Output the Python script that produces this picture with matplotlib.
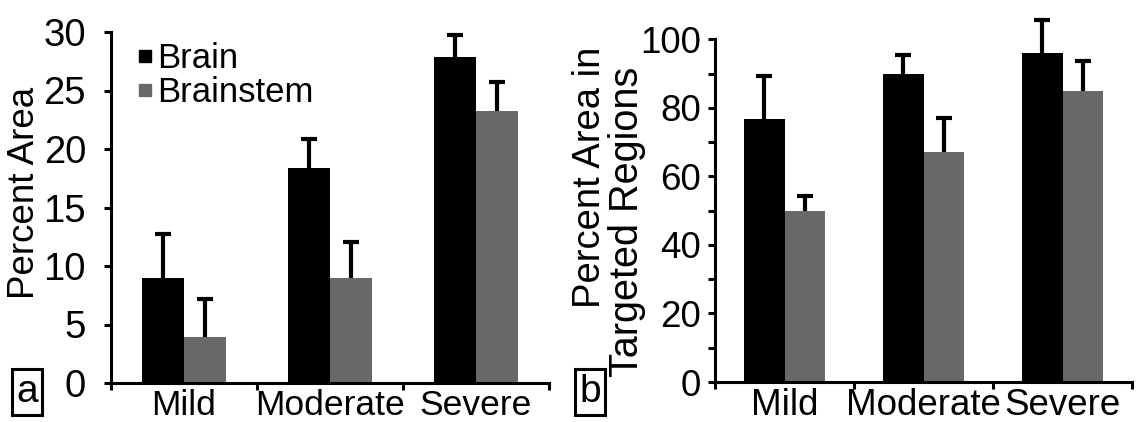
import matplotlib
matplotlib.use("Agg")
import matplotlib.pyplot as plt
from matplotlib.lines import Line2D
import numpy as np

plt.rcParams['font.family'] = ['Liberation Sans', 'DejaVu Sans']

categories = ["Mild", "Moderate", "Severe"]
series = ["Brain", "Brainstem"]

# Panel a: Percent Area
a_brain = [9.0, 18.35, 27.9]
a_brain_err = [3.75, 2.5, 1.85]
a_stem = [3.95, 9.0, 23.25]
a_stem_err = [3.2, 3.05, 2.5]

# Panel b: Percent Area in Targeted Regions
b_brain = [76.6, 90.0, 96.1]
b_brain_err = [12.7, 5.4, 9.5]
b_stem = [49.8, 67.2, 84.9]
b_stem_err = [4.5, 9.8, 8.7]

a_yticks = [0, 5, 10, 15, 20, 25, 30]
b_yticks = [0, 20, 40, 60, 80, 100]
b_yminor = [10, 30, 50, 70, 90]

colors = ["#000000", "#686868"]
W, H = 1144, 422
fig = plt.figure(figsize=(W / 100, H / 100), dpi=100)

LW = 2.2


def panel(rect, brain, brain_err, stem, stem_err, ylim, yticks, fs, yfs, ypad, yminor=None):
    ax = fig.add_axes(rect)
    x = np.arange(len(categories)) + 0.5
    w = 0.29
    ax.bar(x - w / 2, brain, w, color=colors[0], zorder=2)
    ax.bar(x + w / 2, stem, w, color=colors[1], zorder=2)
    for xs, vals, errs in [(x - w / 2, brain, brain_err), (x + w / 2, stem, stem_err)]:
        _, caps, _ = ax.errorbar(xs, vals, yerr=[np.zeros(len(errs)), errs], fmt="none",
                                 ecolor="black", elinewidth=LW + 0.8, capsize=5.5,
                                 capthick=LW + 0.8, clip_on=False, zorder=3)
        caps[0].set_visible(False)
    ax.set_xlim(0, len(categories))
    ax.set_ylim(*ylim)
    ax.set_yticks(yticks)
    ax.set_yticklabels([str(t) for t in yticks])
    if yminor:
        ax.set_yticks(yminor, minor=True)
        ax.tick_params(axis="y", which="minor", length=5, width=LW, direction="out")
    ax.set_xticks([0, 1, 2, 3])
    ax.set_xticklabels([])
    ax.set_xticks(x, minor=True)
    ax.set_xticklabels(categories, minor=True)
    ax.tick_params(axis="x", which="minor", length=0, pad=4, labelsize=fs)
    ax.tick_params(axis="x", which="major", length=5, width=LW, direction="out")
    ax.tick_params(axis="y", which="major", length=5, width=LW, direction="out",
                   labelsize=yfs, pad=ypad)
    for s in ["top", "right"]:
        ax.spines[s].set_visible(False)
    for s in ["left", "bottom"]:
        ax.spines[s].set_linewidth(LW)
    return ax


axa = panel([111 / W, (H - 383) / H, (549 - 111) / W, 351 / H],
            a_brain, a_brain_err, a_stem, a_stem_err, (0, 30), a_yticks, 25.5, 27.5, 13)
fig.text(25 / W, (H - 193) / H, "Percent Area", fontsize=26.5, rotation=90,
         ha="center", va="center")
handles = [Line2D([], [], marker="s", linestyle="none", color=c, markersize=9) for c in colors]
axa.legend(handles, series, loc="upper left", bbox_to_anchor=(0.03, 1.01),
           frameon=False, fontsize=25, handlelength=0.4, handletextpad=0.15,
           labelspacing=0.02, borderaxespad=0.0)

axb = panel([715 / W, (H - 382) / H, (1132 - 715) / W, (382 - 39.3) / H],
            b_brain, b_brain_err, b_stem, b_stem_err, (0, 100), b_yticks, 26.5, 26.5, 5, b_yminor)
fig.text(590 / W, (H - 177) / H, "Percent Area in", fontsize=27.5, rotation=90,
         ha="center", va="center")
fig.text(627 / W, (H - 222) / H, "Targeted Regions", fontsize=28.5, rotation=90,
         ha="center", va="center")

box = dict(boxstyle="square,pad=0.12", facecolor="white", edgecolor="black", linewidth=2.2)
fig.text(27 / W, (H - 392) / H, "a", fontsize=28, ha="center", va="center", bbox=box)
fig.text(590 / W, (H - 392) / H, "b", fontsize=28, ha="center", va="center", bbox=box)

fig.savefig("out.png", dpi=100, facecolor="white")
